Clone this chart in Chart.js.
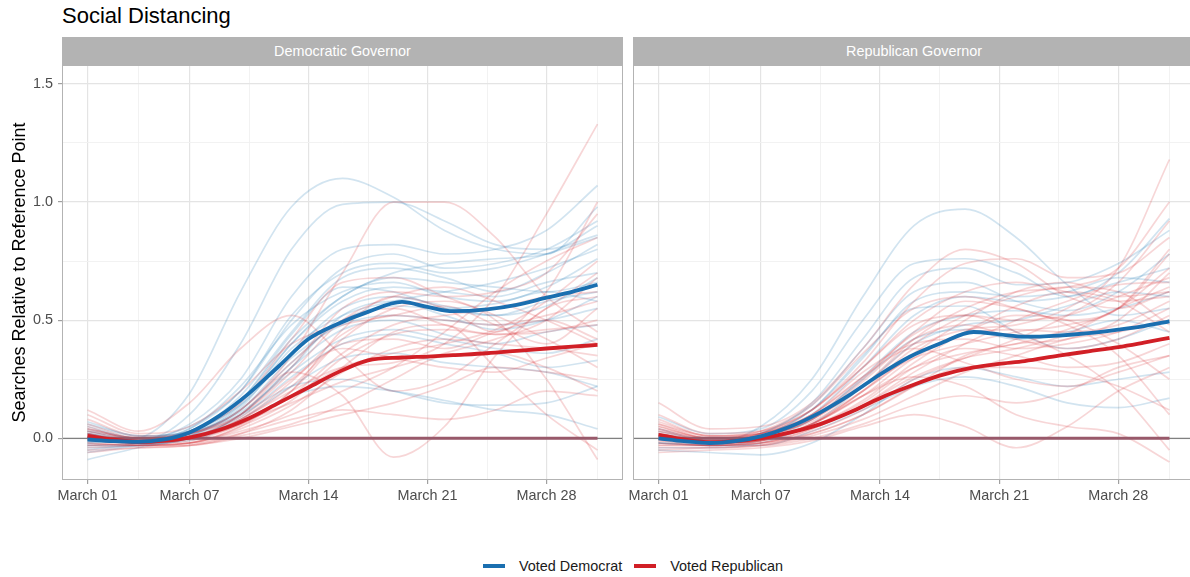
<!DOCTYPE html>
<html>
<head>
<meta charset="utf-8">
<title>Social Distancing</title>
<script src="https://cdn.jsdelivr.net/npm/chart.js@4.4.1/dist/chart.umd.min.js"></script>
<style>
    html, body { margin: 0; padding: 0; background: #fff; overflow: hidden; width: 1190px; height: 577px; }
    body { position: relative; font-family: "Liberation Sans", Arial, sans-serif; }
    #title { position: absolute; left: 62px; top: 5px; font-size: 22px; line-height: 22px; color: #000; }
    .strip { position: absolute; top: 37px; height: 28px; background: #b3b3b3; color: #fff;
             font-size: 14.4px; line-height: 28px; text-align: center; }
    .panel { position: absolute; top: 60px; height: 445px; }
    #legend { position: absolute; left: 483px; top: 556px; height: 20px; display: flex; align-items: center;
              font-size: 14.4px; color: #1a1a1a; }
    .swatch { width: 22px; height: 4px; margin-right: 14px; }
    .item { display: flex; align-items: center; margin-right: 12px; }
</style>
</head>
<body>
<div id="title">Social Distancing</div>
<div class="strip" style="left:62px; width:561px;" id="strip_left"></div>
<div class="strip" style="left:633px; width:562px;" id="strip_right"></div>
<canvas class="panel" id="demChart" width="625" height="445" style="left:0px; width:625px;"></canvas>
<canvas class="panel" id="repChart" width="592" height="445" style="left:603px; width:592px;"></canvas>
<div id="legend"></div>

<script>
// facet + series names
const PANELS = ['Democratic Governor', 'Republican Governor'];
const SERIES_NAMES = ['Voted Democrat', 'Voted Republican'];

// x = day of March
const X_MIN = -0.5;
const X_MAX = 32.5;
const X_TICK_DAYS = [1, 7, 14, 21, 28];
const X_TICK_LABELS = ['March 01', 'March 07', 'March 14', 'March 21', 'March 28'];
const X_MINOR_DAYS = [4, 10.5, 17.5, 24.5, 31];

const Y_MIN = -0.1765;
const Y_MAX = 1.58;
const Y_TICKS = [0, 0.5, 1.0, 1.5];
const Y_MINOR = [0.25, 0.75, 1.25];

// smoothed averages
const MAIN_DAYS = [1, 2.5, 4, 5.5, 7, 8.75, 10.5, 12.25, 14, 15.75, 17.5, 19.5, 21, 22.5, 24.5, 26.25, 28, 29.5, 31];
const dem_gov_voted_dem = [-0.005, -0.012, -0.015, -0.005, 0.025, 0.095, 0.19, 0.305, 0.42, 0.485, 0.535, 0.577, 0.556, 0.538, 0.546, 0.565, 0.595, 0.62, 0.65];
const dem_gov_voted_rep = [0.01, -0.005, -0.015, -0.01, 0.003, 0.035, 0.085, 0.15, 0.215, 0.28, 0.33, 0.342, 0.346, 0.352, 0.36, 0.37, 0.38, 0.388, 0.395];
const rep_gov_voted_dem = [0.0, -0.012, -0.02, -0.012, 0.008, 0.05, 0.11, 0.185, 0.27, 0.345, 0.40, 0.45, 0.44, 0.43, 0.435, 0.445, 0.46, 0.475, 0.495];
const rep_gov_voted_rep = [0.015, -0.005, -0.017, -0.012, 0.0, 0.025, 0.06, 0.11, 0.17, 0.22, 0.265, 0.30, 0.315, 0.327, 0.35, 0.368, 0.386, 0.405, 0.425];

// individual states (faint lines)
const STATE_DAYS = [1, 4, 7, 10, 13, 16, 19, 22, 25, 28, 31];

const dem_gov_blue_states = [
    [-0.02, 0.00, 0.19, 0.62, 0.98, 1.10, 1.02, 0.88, 0.80, 0.78, 0.98],
    [0.02, -0.01, 0.10, 0.40, 0.80, 0.99, 1.00, 0.92, 0.82, 0.80, 0.86],
    [-0.05, -0.02, 0.06, 0.25, 0.60, 0.80, 0.82, 0.78, 0.80, 0.88, 1.07],
    [0.03, 0.00, 0.05, 0.20, 0.50, 0.72, 0.78, 0.72, 0.74, 0.80, 0.92],
    [0.06, 0.01, 0.03, 0.18, 0.45, 0.68, 0.72, 0.68, 0.62, 0.70, 0.82],
    [-0.03, -0.02, 0.04, 0.22, 0.48, 0.62, 0.66, 0.60, 0.58, 0.64, 0.76],
    [0.00, -0.01, 0.02, 0.15, 0.40, 0.58, 0.64, 0.62, 0.60, 0.66, 0.70],
    [0.04, 0.00, 0.03, 0.14, 0.36, 0.55, 0.60, 0.56, 0.52, 0.58, 0.62],
    [-0.06, -0.03, 0.01, 0.12, 0.32, 0.50, 0.56, 0.55, 0.57, 0.62, 0.58],
    [0.01, -0.02, 0.02, 0.12, 0.34, 0.48, 0.52, 0.50, 0.48, 0.50, 0.55],
    [-0.02, -0.01, 0.00, 0.10, 0.30, 0.46, 0.50, 0.44, 0.40, 0.45, 0.48],
    [0.05, 0.00, 0.02, 0.11, 0.28, 0.42, 0.46, 0.42, 0.38, 0.36, 0.42],
    [-0.09, -0.04, 0.00, 0.09, 0.26, 0.40, 0.44, 0.40, 0.36, 0.30, 0.33],
    [0.02, -0.02, -0.01, 0.08, 0.22, 0.34, 0.36, 0.32, 0.30, 0.28, 0.22],
    [0.00, -0.02, 0.01, 0.10, 0.22, 0.25, 0.20, 0.15, 0.14, 0.15, 0.22],
    [-0.04, -0.03, 0.00, 0.07, 0.18, 0.22, 0.20, 0.16, 0.12, 0.10, 0.04],
    [0.07, 0.01, 0.03, 0.16, 0.42, 0.60, 0.70, 0.74, 0.76, 0.78, 0.90],
    [0.01, -0.01, 0.02, 0.13, 0.38, 0.52, 0.58, 0.62, 0.66, 0.72, 0.80],
    [0.03, -0.01, 0.04, 0.20, 0.52, 0.70, 0.74, 0.70, 0.72, 0.78, 0.85],
    [-0.01, -0.02, 0.01, 0.14, 0.40, 0.60, 0.68, 0.66, 0.64, 0.62, 0.66],
    [0.02, -0.01, 0.03, 0.16, 0.44, 0.64, 0.62, 0.55, 0.52, 0.56, 0.68],
    [-0.03, -0.03, 0.00, 0.10, 0.30, 0.52, 0.58, 0.52, 0.46, 0.50, 0.60],
];

const dem_gov_red_states = [
    [0.12, 0.03, 0.15, 0.38, 0.52, 0.35, 0.20, 0.25, 0.40, 0.55, 0.70],
    [0.00, -0.02, 0.02, 0.12, 0.35, 0.70, 1.00, 1.00, 0.85, 0.60, 0.45],
    [-0.03, -0.02, 0.00, 0.08, 0.20, 0.30, 0.32, 0.40, 0.60, 0.95, 1.33],
    [0.04, 0.00, 0.01, 0.10, 0.28, 0.18, -0.08, 0.05, 0.35, 0.55, 0.60],
    [0.02, -0.03, -0.02, 0.05, 0.20, 0.42, 0.55, 0.58, 0.50, 0.25, -0.09],
    [-0.05, -0.04, -0.03, 0.02, 0.12, 0.30, 0.45, 0.48, 0.30, 0.10, -0.05],
    [0.05, -0.01, 0.00, 0.10, 0.30, 0.55, 0.62, 0.60, 0.62, 0.70, 0.95],
    [0.01, -0.02, -0.01, 0.06, 0.18, 0.36, 0.48, 0.52, 0.55, 0.60, 0.62],
    [0.08, 0.01, 0.02, 0.12, 0.32, 0.50, 0.55, 0.48, 0.44, 0.45, 0.50],
    [-0.02, -0.03, -0.02, 0.04, 0.14, 0.28, 0.38, 0.42, 0.40, 0.38, 0.35],
    [0.03, -0.01, 0.00, 0.08, 0.22, 0.40, 0.42, 0.38, 0.45, 0.50, 0.42],
    [-0.06, -0.04, -0.03, 0.00, 0.05, 0.10, 0.15, 0.22, 0.30, 0.28, 0.25],
    [0.00, -0.02, 0.03, 0.15, 0.42, 0.66, 0.68, 0.60, 0.52, 0.42, 0.30],
    [0.06, 0.00, 0.01, 0.07, 0.15, 0.24, 0.30, 0.36, 0.42, 0.50, 0.68],
    [-0.01, -0.02, -0.02, 0.02, 0.08, 0.12, 0.10, 0.08, 0.12, 0.20, 0.18],
    [0.02, -0.01, 0.00, 0.06, 0.20, 0.46, 0.60, 0.55, 0.45, 0.62, 1.00],
    [-0.04, -0.03, -0.02, 0.03, 0.10, 0.20, 0.30, 0.45, 0.62, 0.75, 0.85],
    [0.03, 0.00, 0.02, 0.09, 0.25, 0.38, 0.34, 0.30, 0.28, 0.34, 0.40],
    [0.10, 0.02, 0.05, 0.20, 0.40, 0.48, 0.52, 0.56, 0.48, 0.40, 0.55],
    [-0.02, -0.03, -0.03, 0.01, 0.06, 0.14, 0.25, 0.35, 0.36, 0.30, 0.20],
    [0.02, -0.02, 0.00, 0.08, 0.24, 0.44, 0.52, 0.50, 0.48, 0.52, 0.58],
    [-0.03, -0.03, -0.02, 0.05, 0.16, 0.34, 0.44, 0.46, 0.44, 0.46, 0.48],
    [0.04, 0.00, 0.02, 0.10, 0.28, 0.50, 0.60, 0.64, 0.58, 0.50, 0.40],
    [0.00, -0.02, 0.00, 0.06, 0.18, 0.30, 0.36, 0.40, 0.46, 0.58, 0.75],
];

const rep_gov_blue_states = [
    [0.02, -0.02, 0.05, 0.25, 0.60, 0.90, 0.97, 0.85, 0.65, 0.52, 0.55],
    [0.09, 0.02, 0.04, 0.20, 0.50, 0.74, 0.76, 0.70, 0.60, 0.70, 0.93],
    [-0.02, -0.03, 0.02, 0.15, 0.42, 0.68, 0.72, 0.65, 0.66, 0.74, 0.88],
    [0.00, -0.02, 0.00, 0.10, 0.30, 0.52, 0.60, 0.58, 0.60, 0.66, 0.72],
    [-0.04, -0.04, -0.02, 0.06, 0.22, 0.40, 0.48, 0.50, 0.56, 0.62, 0.60],
    [0.04, -0.01, 0.01, 0.08, 0.25, 0.42, 0.46, 0.42, 0.45, 0.50, 0.45],
    [-0.05, -0.06, -0.07, -0.02, 0.10, 0.25, 0.30, 0.26, 0.22, 0.25, 0.28],
    [0.01, -0.03, -0.03, 0.03, 0.12, 0.22, 0.26, 0.22, 0.15, 0.13, 0.17],
    [-0.02, -0.02, 0.01, 0.12, 0.35, 0.55, 0.56, 0.45, 0.38, 0.42, 0.50],
    [0.03, -0.01, 0.02, 0.14, 0.38, 0.62, 0.66, 0.58, 0.54, 0.62, 0.78],
    [0.01, -0.02, 0.01, 0.12, 0.34, 0.58, 0.62, 0.60, 0.62, 0.68, 0.66],
    [-0.02, -0.03, -0.01, 0.08, 0.26, 0.45, 0.52, 0.54, 0.52, 0.55, 0.62],
];

const rep_gov_red_states = [
    [0.15, 0.04, 0.05, 0.15, 0.38, 0.65, 0.80, 0.74, 0.60, 0.55, 0.62],
    [0.05, 0.00, 0.02, 0.12, 0.32, 0.58, 0.74, 0.76, 0.68, 0.70, 0.85],
    [-0.03, -0.03, -0.01, 0.06, 0.20, 0.38, 0.46, 0.48, 0.55, 0.72, 1.18],
    [0.02, -0.02, 0.00, 0.08, 0.22, 0.42, 0.55, 0.62, 0.64, 0.72, 1.00],
    [0.00, -0.02, -0.02, 0.03, 0.12, 0.25, 0.34, 0.42, 0.52, 0.66, 0.92],
    [0.04, -0.01, 0.01, 0.09, 0.25, 0.45, 0.58, 0.55, 0.50, 0.55, 0.78],
    [-0.05, -0.04, -0.03, 0.02, 0.10, 0.22, 0.35, 0.40, 0.42, 0.50, 0.70],
    [0.08, 0.01, 0.02, 0.10, 0.28, 0.40, 0.42, 0.38, 0.40, 0.45, 0.55],
    [0.01, -0.02, -0.01, 0.05, 0.15, 0.30, 0.38, 0.35, 0.30, 0.32, 0.40],
    [-0.02, -0.03, -0.03, 0.00, 0.06, 0.14, 0.18, 0.15, 0.20, 0.30, 0.35],
    [0.06, 0.00, 0.03, 0.14, 0.36, 0.55, 0.60, 0.55, 0.48, 0.35, 0.10],
    [0.03, -0.01, 0.00, 0.06, 0.18, 0.26, 0.22, 0.10, 0.05, 0.02, -0.10],
    [-0.06, -0.05, -0.04, -0.01, 0.05, 0.10, 0.05, -0.04, 0.05, 0.20, 0.30],
    [0.02, -0.01, 0.01, 0.07, 0.20, 0.35, 0.45, 0.52, 0.50, 0.40, 0.25],
    [-0.01, -0.03, -0.02, 0.04, 0.14, 0.28, 0.40, 0.50, 0.58, 0.65, 0.66],
    [0.10, 0.02, 0.03, 0.12, 0.30, 0.48, 0.52, 0.45, 0.35, 0.20, -0.05],
    [0.00, -0.02, -0.01, 0.05, 0.16, 0.32, 0.45, 0.56, 0.62, 0.58, 0.45],
    [0.04, 0.00, 0.02, 0.10, 0.26, 0.38, 0.32, 0.25, 0.22, 0.28, 0.35],
    [-0.04, -0.04, -0.03, 0.01, 0.08, 0.18, 0.28, 0.35, 0.42, 0.45, 0.50],
    [0.02, -0.02, 0.00, 0.06, 0.20, 0.36, 0.50, 0.62, 0.66, 0.60, 0.62],
    [0.07, 0.01, 0.02, 0.09, 0.22, 0.34, 0.40, 0.45, 0.48, 0.55, 0.80],
    [-0.02, -0.03, -0.02, 0.02, 0.10, 0.22, 0.30, 0.30, 0.28, 0.22, 0.12],
    [0.01, -0.02, -0.01, 0.06, 0.18, 0.30, 0.36, 0.40, 0.46, 0.55, 0.72],
    [0.03, 0.00, 0.01, 0.08, 0.22, 0.40, 0.52, 0.60, 0.64, 0.62, 0.48],
    [0.05, 0.00, 0.02, 0.10, 0.26, 0.44, 0.52, 0.50, 0.52, 0.60, 0.68],
    [-0.01, -0.02, -0.01, 0.06, 0.18, 0.34, 0.44, 0.46, 0.45, 0.48, 0.58],
    [0.02, -0.01, 0.01, 0.08, 0.24, 0.42, 0.48, 0.42, 0.38, 0.42, 0.52],
    [-0.03, -0.03, -0.02, 0.04, 0.14, 0.26, 0.34, 0.38, 0.44, 0.55, 0.64],
    [0.06, 0.01, 0.03, 0.12, 0.30, 0.50, 0.62, 0.66, 0.62, 0.58, 0.60],
];

// states stuck at the reference value
const FLAT_DAYS = [1, 31];
const FLAT_VALUES = [0, 0];
const REF_LINE_DAYS = [X_MIN, X_MAX];
const REF_LINE_VALUES = [0, 0];

const BLUE = '#1a6fb0';
const RED = '#d11f26';
const BLUE_FAINT = 'rgba(31, 120, 180, 0.2)';
const RED_FAINT = 'rgba(214, 39, 40, 0.19)';
const FONT = '"Liberation Sans", Arial, sans-serif';

function toPoints(days, values) {
    return days.map((d, i) => ({x: d, y: values[i]}));
}

function lineDataset(days, values, color, width, order) {
    return {
        data: toPoints(days, values),
        borderColor: color,
        borderWidth: width,
        fill: false,
        cubicInterpolationMode: 'monotone',
        pointRadius: 0,
        order: order,
    };
}

function panelDatasets(blue_states, red_states, main_dem, main_rep) {
    let datasets = [];
    datasets.push(lineDataset(MAIN_DAYS, main_dem, BLUE, 3.8, 0));
    datasets.push(lineDataset(MAIN_DAYS, main_rep, RED, 3.8, 0));
    datasets.push(lineDataset(FLAT_DAYS, FLAT_VALUES, '#98596a', 3, 1));
    datasets.push(lineDataset(REF_LINE_DAYS, REF_LINE_VALUES, '#808080', 1.2, 2));
    for (let i = 0; i < red_states.length; i++) {
        datasets.push(lineDataset(STATE_DAYS, red_states[i], RED_FAINT, 1.7, 3));
    }
    for (let i = 0; i < blue_states.length; i++) {
        datasets.push(lineDataset(STATE_DAYS, blue_states[i], BLUE_FAINT, 1.7, 3));
    }
    return datasets;
}

const panel_border = {
    id: 'panelBorder',
    afterDraw(chart) {
        const a = chart.chartArea;
        const ctx = chart.ctx;
        ctx.save();
        ctx.strokeStyle = '#b3b3b3';
        ctx.lineWidth = 1;
        ctx.strokeRect(a.left + 0.5, a.top + 0.5, a.right - a.left - 1, a.bottom - a.top - 1);
        ctx.restore();
    }
};

function panelConfig(datasets, show_y) {
    const x_grid = X_TICK_DAYS.concat(X_MINOR_DAYS).sort((a, b) => a - b);
    const y_grid = Y_TICKS.concat(Y_MINOR).sort((a, b) => a - b);
    return {
        type: 'line',
        data: { datasets: datasets },
        options: {
            responsive: false,
            animation: false,
            // right panel canvas starts 30px early so its first label is not cut
            layout: { padding: { top: 5, right: show_y ? 2 : 0, left: show_y ? 0 : 30, bottom: 0 } },
            plugins: {
                legend: { display: false },
                tooltip: { enabled: false },
            },
            scales: {
                x: {
                    type: 'linear',
                    min: X_MIN,
                    max: X_MAX,
                    afterBuildTicks: axis => { axis.ticks = x_grid.map(v => ({value: v})); },
                    afterFit: axis => {
                        axis.height = 25;
                        axis.paddingLeft = 0;
                        axis.paddingRight = 0;
                    },
                    ticks: {
                        autoSkip: false,
                        maxRotation: 0,
                        padding: 3,
                        color: '#4d4d4d',
                        font: { family: FONT, size: 14.4 },
                        callback: v => {
                            let i = X_TICK_DAYS.indexOf(v);
                            return i >= 0 ? X_TICK_LABELS[i] : '';
                        }
                    },
                    grid: {
                        color: ctx => X_TICK_DAYS.includes(ctx.tick.value) ? '#e4e4e4' : '#f0f0f0',
                        lineWidth: ctx => X_TICK_DAYS.includes(ctx.tick.value) ? 1.2 : 0.9,
                        tickLength: 4,
                        tickColor: ctx => X_TICK_DAYS.includes(ctx.tick.value) ? '#a0a0a0' : 'rgba(0,0,0,0)',
                    },
                    border: { display: false },
                },
                y: {
                    type: 'linear',
                    min: Y_MIN,
                    max: Y_MAX,
                    afterBuildTicks: axis => { axis.ticks = y_grid.map(v => ({value: v})); },
                    afterFit: axis => {
                        axis.width = show_y ? 62 : 0;
                        axis.paddingTop = 0;
                        axis.paddingBottom = 0;
                    },
                    ticks: {
                        display: show_y,
                        padding: 5,
                        color: '#4d4d4d',
                        font: { family: FONT, size: 14.4 },
                        callback: v => Y_TICKS.includes(v) ? v.toFixed(1) : ''
                    },
                    title: {
                        display: show_y,
                        text: 'Searches Relative to Reference Point',
                        color: '#000',
                        font: { family: FONT, size: 18 },
                        padding: { top: 9, bottom: 0 },
                    },
                    grid: {
                        color: ctx => Y_TICKS.includes(ctx.tick.value) ? '#e4e4e4' : '#f0f0f0',
                        lineWidth: ctx => Y_TICKS.includes(ctx.tick.value) ? 1.2 : 0.9,
                        drawTicks: show_y,
                        tickLength: 4,
                        tickColor: ctx => Y_TICKS.includes(ctx.tick.value) ? '#a0a0a0' : 'rgba(0,0,0,0)',
                    },
                    border: { display: false },
                }
            }
        },
        plugins: [panel_border]
    };
}

function buildLegend() {
    let legend = document.getElementById('legend');
    let colors = [BLUE, RED];
    for (let i = 0; i < SERIES_NAMES.length; i++) {
        let item = document.createElement('div');
        item.className = 'item';
        let sw = document.createElement('div');
        sw.className = 'swatch';
        sw.style.background = colors[i];
        let label = document.createElement('span');
        label.textContent = SERIES_NAMES[i];
        item.appendChild(sw);
        item.appendChild(label);
        legend.appendChild(item);
    }
}

function main() {
    document.getElementById('strip_left').textContent = PANELS[0];
    document.getElementById('strip_right').textContent = PANELS[1];

    let dem_data = panelDatasets(dem_gov_blue_states, dem_gov_red_states, dem_gov_voted_dem, dem_gov_voted_rep);
    let rep_data = panelDatasets(rep_gov_blue_states, rep_gov_red_states, rep_gov_voted_dem, rep_gov_voted_rep);

    new Chart(document.getElementById('demChart').getContext('2d'), panelConfig(dem_data, true));
    new Chart(document.getElementById('repChart').getContext('2d'), panelConfig(rep_data, false));

    buildLegend();
}

main();
</script>
</body>
</html>
